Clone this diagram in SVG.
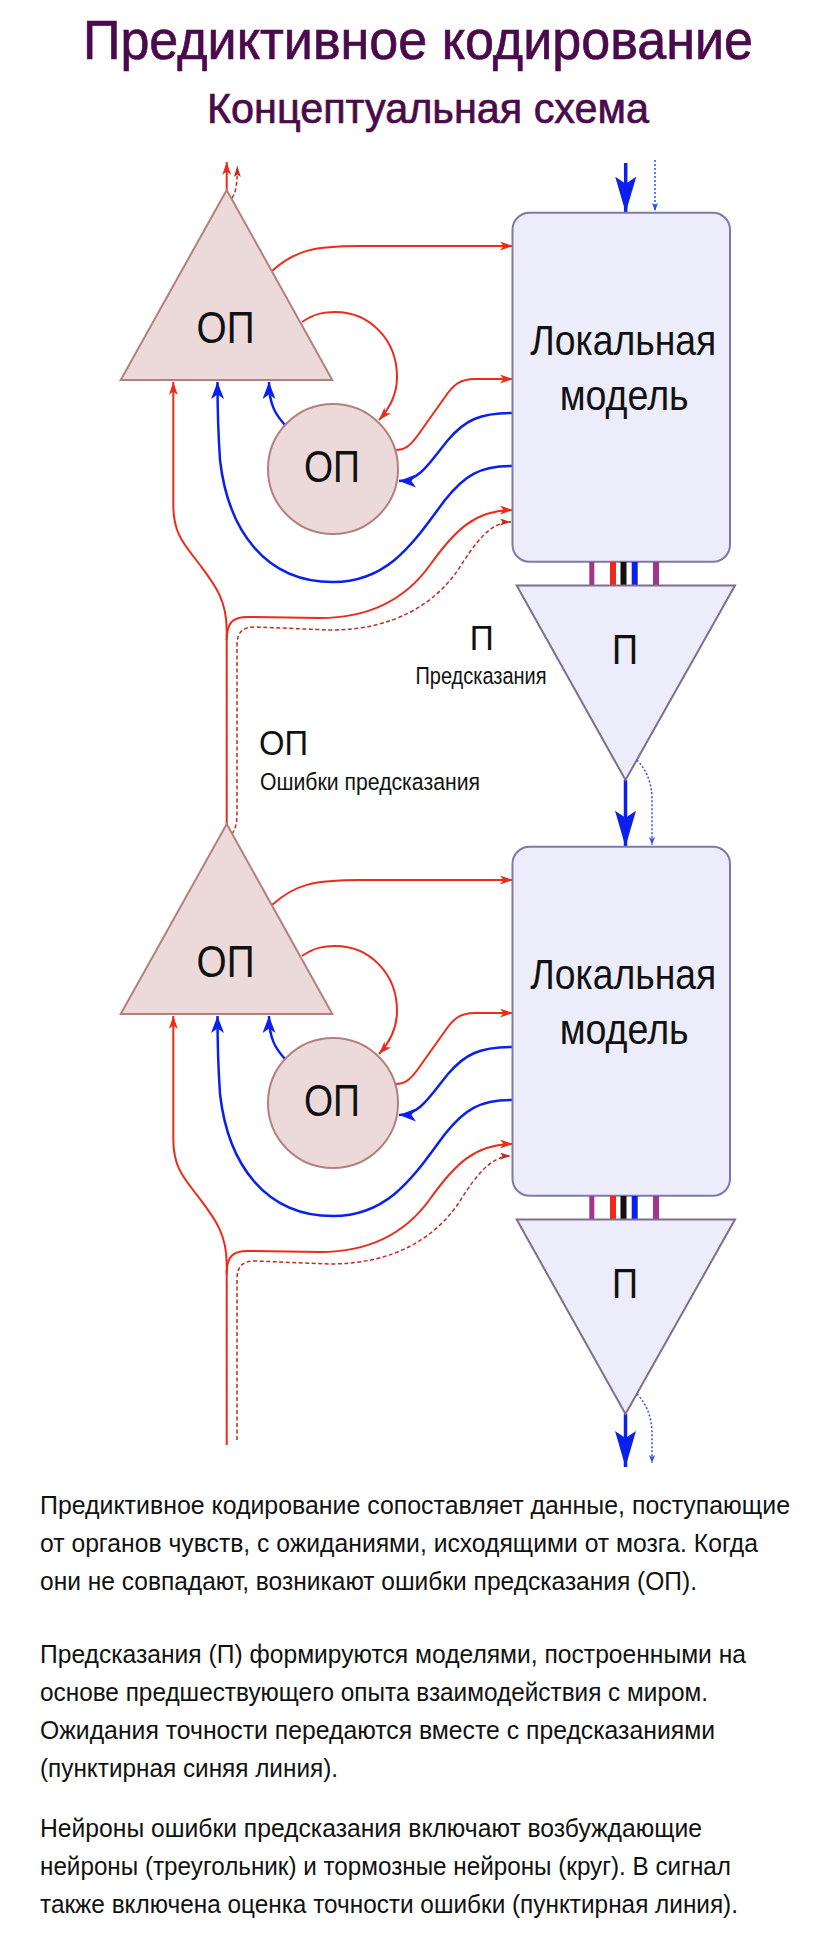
<svg xmlns="http://www.w3.org/2000/svg" width="813" height="1934" viewBox="0 0 813 1934">
<defs>
<style>
.t{font-family:"Liberation Sans",Arial,sans-serif;fill:#111}
.ttl{font-family:"Liberation Sans",Arial,sans-serif;fill:#4a0a4c;stroke:#4a0a4c;stroke-width:0.7}
.ep{fill:#ecdada;stroke:#b4807f;stroke-width:2}
.lm{fill:#ececfb;stroke:#8078a8;stroke-width:2}
.pt{fill:#ececfb;stroke:#7e6f8a;stroke-width:2}
.r{fill:none;stroke:#ee2a1a;stroke-width:2;marker-end:url(#ar)}
.rd{fill:none;stroke:#c42a22;stroke-width:1.5;stroke-dasharray:4 2.5;marker-end:url(#ard)}
.b{fill:none;stroke:#0a20ee;stroke-width:2.5;marker-end:url(#ab)}
.bb{fill:none;stroke:#0a20ee;stroke-width:3.5;marker-end:url(#abb)}
.bd{fill:none;stroke:#2a4cff;stroke-width:1.5;stroke-dasharray:2 2;marker-end:url(#abd)}
</style>
<marker id="ar" markerUnits="userSpaceOnUse" markerWidth="13" markerHeight="9" refX="13" refY="4.5" orient="auto"><path d="M0,0 L13,4.5 L0,9 L3.5,4.5 Z" fill="#ee2a1a"/></marker>
<marker id="ard" markerUnits="userSpaceOnUse" markerWidth="11" markerHeight="7" refX="11" refY="3.5" orient="auto"><path d="M0,0 L11,3.5 L0,7 L2.5,3.5 Z" fill="#c42a22"/></marker>
<marker id="ab" markerUnits="userSpaceOnUse" markerWidth="17" markerHeight="13" refX="17" refY="6.5" orient="auto"><path d="M0,0 L17,6.5 L0,13 L4.5,6.5 Z" fill="#0a20ee"/></marker>
<marker id="abb" markerUnits="userSpaceOnUse" markerWidth="36" markerHeight="21" refX="36" refY="10.5" orient="auto"><path d="M0,0 L36,10.5 L0,21 L7,10.5 Z" fill="#0a20ee"/></marker>
<marker id="abd" markerUnits="userSpaceOnUse" markerWidth="8" markerHeight="6" refX="8" refY="3" orient="auto"><path d="M0,0 L8,3 L0,6 L2,3 Z" fill="#2a4cff"/></marker>
</defs>
<rect width="813" height="1934" fill="#ffffff"/>

<g id="title">
<text class="ttl" x="83" y="59" font-size="55" textLength="670" lengthAdjust="spacingAndGlyphs">Предиктивное кодирование</text>
<text class="ttl" x="207" y="123" font-size="43" textLength="442" lengthAdjust="spacingAndGlyphs">Концептуальная схема</text>
</g>

<g id="connectors">
<path class="r" d="M226.7 190 V162"/>
<path class="rd" d="M232 198 C236 192 237.3 185 237.3 166"/>
<path class="r" d="M272 271 C295 250 315 246 360 246 L513 246"/>
<path class="r" d="M302 322 C315 313 325 312 335 312 C370 312 397 340 397 377 C397 395 390 408 379 420"/>
<path class="r" d="M395 450 C405 450 410 446 418 435 L445 397 C453 385 460 379 475 379 L513 379"/>
<path class="b" d="M512 413 C480 413 465 420 448 440 C430 462 420 481 399 481"/>
<path class="b" d="M512 466 C480 466 465 475 445 500 C415 540 390 582 333 582 C265 582 228 530 220 460 C218 430 217.5 405 217.5 382"/>
<path class="b" d="M285 425 C276 415 269 405 269 382"/>
<path class="bb" d="M625.7 163 V212.7"/>
<path class="bd" d="M655 160 V211"/>
<path class="r" d="M226.7 824 L226.7 630 C226.7 600 215 585 200 565 C185 545 173.3 535 173.3 505 L173.3 382"/>
<path class="r" d="M226.7 640 C226.7 622 233 617 248 617 L320 618 C370 618 405 600 430 565 C455 530 475 510 513 510"/>
<path class="rd" d="M232 834 C236 828 237 822 237 812 L237 645 C237 632 243 627 255 627 L330 630 C395 630 435 603 458 570 C475 543 490 522 511 522"/>
<path class="bb" d="M625.5 780 V846.7"/>
<path class="bd" d="M637 760 C648 772 652 785 652 800 V845"/>
<path class="r" d="M272 905 C295 884 315 880 360 880 L513 880"/>
<path class="r" d="M302 956 C315 947 325 946 335 946 C370 946 397 974 397 1011 C397 1029 390 1042 379 1054"/>
<path class="r" d="M395 1084 C405 1084 410 1080 418 1069 L445 1031 C453 1019 460 1013 475 1013 L513 1013"/>
<path class="b" d="M512 1047 C480 1047 465 1054 448 1074 C430 1096 420 1115 399 1115"/>
<path class="b" d="M512 1100 C480 1100 465 1109 445 1134 C415 1174 390 1216 333 1216 C265 1216 228 1164 220 1094 C218 1064 217.5 1039 217.5 1016"/>
<path class="b" d="M285 1059 C276 1049 269 1039 269 1016"/>
<path class="r" d="M226.7 1445 L226.7 1264 C226.7 1234 215 1219 200 1199 C185 1179 173.3 1169 173.3 1139 L173.3 1016"/>
<path class="r" d="M226.7 1274 C226.7 1256 233 1251 248 1251 L320 1252 C370 1252 405 1234 430 1199 C455 1164 475 1144 513 1144"/>
<path class="rd" d="M237 1440 L237 1279 C237 1266 243 1261 255 1261 L330 1264 C395 1264 435 1237 458 1204 C475 1177 490 1156 511 1156"/>
<path class="bb" d="M625.5 1414 V1467"/>
<path class="bd" d="M637 1394 C648 1406 652 1419 652 1434 V1463"/>
</g>

<g id="ep-triangle-1">
<polygon class="ep" points="226.7,190 332.3,380 120.7,380"/>
<text class="t" x="225.5" y="343" font-size="44" text-anchor="middle" textLength="58" lengthAdjust="spacingAndGlyphs">ОП</text>
</g>
<g id="ep-circle-1">
<circle class="ep" cx="333" cy="469" r="65"/>
<text class="t" x="332" y="481.5" font-size="44" text-anchor="middle" textLength="56" lengthAdjust="spacingAndGlyphs">ОП</text>
</g>
<g id="model-1">
<rect class="lm" x="512.5" y="212.7" width="217.5" height="349" rx="17"/>
<text class="t" x="623.3" y="355" font-size="42" text-anchor="middle" textLength="186" lengthAdjust="spacingAndGlyphs">Локальная</text>
<text class="t" x="624.2" y="410" font-size="42" text-anchor="middle" textLength="129" lengthAdjust="spacingAndGlyphs">модель</text>
</g>
<g id="bars-1">
<rect x="589.3" y="562" width="5" height="23.5" fill="#a2348e"/>
<rect x="610" y="562" width="6" height="23.5" fill="#ee2a1a"/>
<rect x="620.5" y="562" width="6" height="23.5" fill="#111111"/>
<rect x="631.7" y="562" width="6" height="23.5" fill="#0a20ee"/>
<rect x="653" y="562" width="6" height="23.5" fill="#a2348e"/>
</g>
<g id="prediction-1">
<polygon class="pt" points="516.7,585.5 735,585.5 625.5,780"/>
<text class="t" x="625" y="664" font-size="43" text-anchor="middle" textLength="26" lengthAdjust="spacingAndGlyphs">П</text>
</g>

<g id="legend">
<text class="t" x="481.7" y="650" font-size="35" text-anchor="middle" textLength="24" lengthAdjust="spacingAndGlyphs">П</text>
<text class="t" x="481" y="684" font-size="24.5" text-anchor="middle" textLength="131" lengthAdjust="spacingAndGlyphs">Предсказания</text>
<text class="t" x="259" y="755" font-size="35" textLength="49" lengthAdjust="spacingAndGlyphs">ОП</text>
<text class="t" x="260" y="790" font-size="24.5" textLength="220" lengthAdjust="spacingAndGlyphs">Ошибки предсказания</text>
</g>

<g id="ep-triangle-2">
<polygon class="ep" points="226.7,824 332.3,1014 120.7,1014"/>
<text class="t" x="225.5" y="977" font-size="44" text-anchor="middle" textLength="58" lengthAdjust="spacingAndGlyphs">ОП</text>
</g>
<g id="ep-circle-2">
<circle class="ep" cx="333" cy="1103" r="65"/>
<text class="t" x="332" y="1115.5" font-size="44" text-anchor="middle" textLength="56" lengthAdjust="spacingAndGlyphs">ОП</text>
</g>
<g id="model-2">
<rect class="lm" x="512.5" y="846.7" width="217.5" height="349" rx="17"/>
<text class="t" x="623.3" y="989" font-size="42" text-anchor="middle" textLength="186" lengthAdjust="spacingAndGlyphs">Локальная</text>
<text class="t" x="624.2" y="1044" font-size="42" text-anchor="middle" textLength="129" lengthAdjust="spacingAndGlyphs">модель</text>
</g>
<g id="bars-2">
<rect x="589.3" y="1196" width="5" height="23.5" fill="#a2348e"/>
<rect x="610" y="1196" width="6" height="23.5" fill="#ee2a1a"/>
<rect x="620.5" y="1196" width="6" height="23.5" fill="#111111"/>
<rect x="631.7" y="1196" width="6" height="23.5" fill="#0a20ee"/>
<rect x="653" y="1196" width="6" height="23.5" fill="#a2348e"/>
</g>
<g id="prediction-2">
<polygon class="pt" points="516.7,1219.5 735,1219.5 625.5,1414"/>
<text class="t" x="625" y="1298" font-size="43" text-anchor="middle" textLength="26" lengthAdjust="spacingAndGlyphs">П</text>
</g>

<g id="description" font-size="25.5">
<text class="t" x="40" y="1514" textLength="750" lengthAdjust="spacingAndGlyphs">Предиктивное кодирование сопоставляет данные, поступающие</text>
<text class="t" x="40" y="1552" textLength="718" lengthAdjust="spacingAndGlyphs">от органов чувств, с ожиданиями, исходящими от мозга. Когда</text>
<text class="t" x="40" y="1590" textLength="657" lengthAdjust="spacingAndGlyphs">они не совпадают, возникают ошибки предсказания (ОП).</text>
<text class="t" x="40" y="1663" textLength="706" lengthAdjust="spacingAndGlyphs">Предсказания (П) формируются моделями, построенными на</text>
<text class="t" x="40" y="1701" textLength="668" lengthAdjust="spacingAndGlyphs">основе предшествующего опыта взаимодействия с миром.</text>
<text class="t" x="40" y="1739" textLength="675" lengthAdjust="spacingAndGlyphs">Ожидания точности передаются вместе с предсказаниями</text>
<text class="t" x="40" y="1777" textLength="298" lengthAdjust="spacingAndGlyphs">(пунктирная синяя линия).</text>
<text class="t" x="40" y="1837" textLength="662" lengthAdjust="spacingAndGlyphs">Нейроны ошибки предсказания включают возбуждающие</text>
<text class="t" x="40" y="1875" textLength="691" lengthAdjust="spacingAndGlyphs">нейроны (треугольник) и тормозные нейроны (круг). В сигнал</text>
<text class="t" x="40" y="1913" textLength="698" lengthAdjust="spacingAndGlyphs">также включена оценка точности ошибки (пунктирная линия).</text>
</g>
</svg>
